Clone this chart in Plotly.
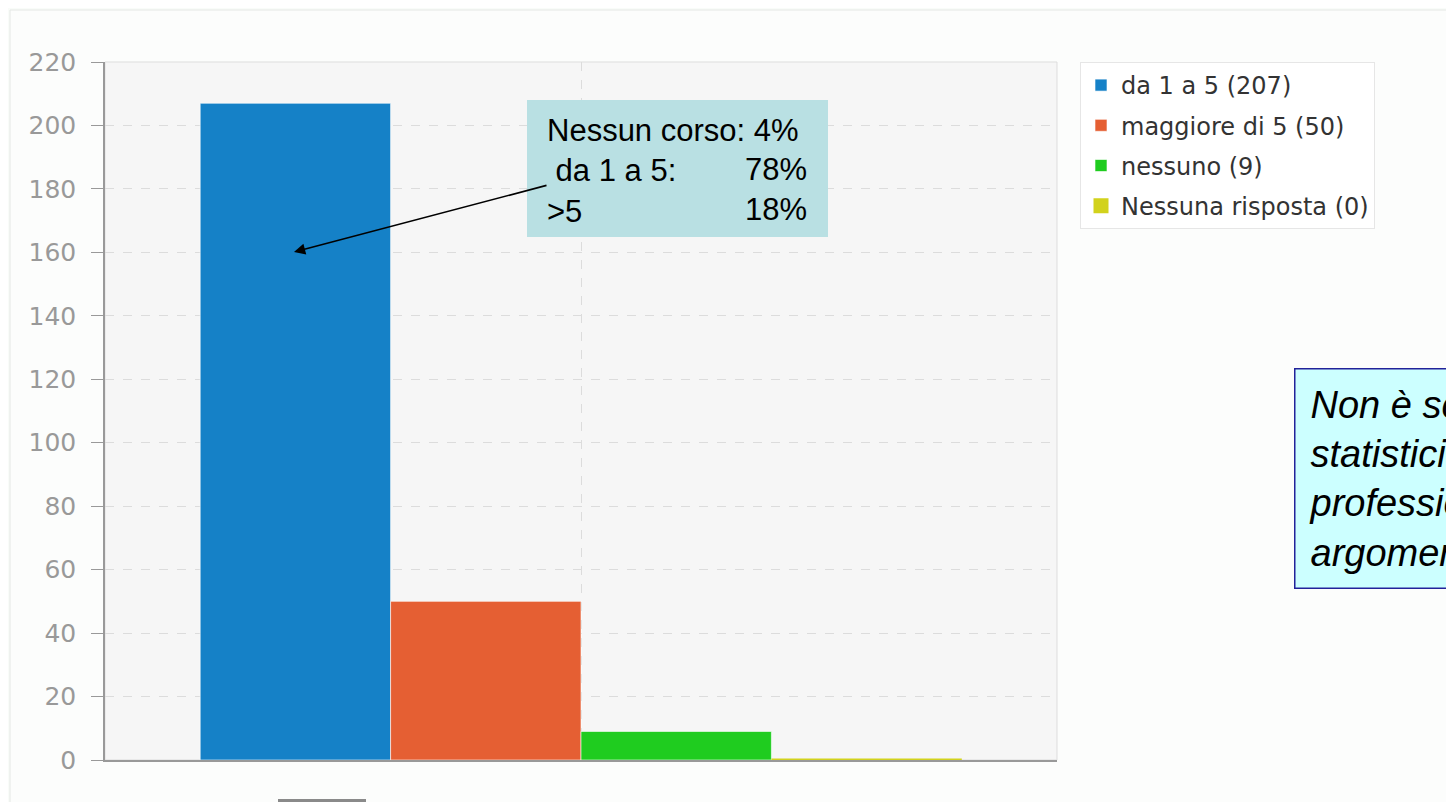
import plotly.graph_objects as go

# data
category = ["corsi"]
series_names = ["da 1 a 5 (207)", "maggiore di 5 (50)", "nessuno (9)", "Nessuna risposta (0)"]
series_values = [207, 50, 9, 0]
series_colors = ["#1581c7", "#e55f33", "#1fcc1f", "#d2d21c"]
y_ticks = list(range(0, 221, 20))
box_labels = ["Nessun corso: 4%", " da 1 a 5:", ">5"]
box_percents = ["78%", "18%"]
note_text = "Non è scontato che i<br>statistici seguano corsi<br>professionali su questo<br>argomento"

# the page body adds an 8px margin, so the figure starts at (8, 8)
OFF = 8
W, H = 1454 - OFF, 802 - OFF
# plot area in page pixels
L, R, T, B = 105, 1057, 62, 760


def px(x):
    return (x - L) / (R - L)


def py(y):
    return (B - y) / (B - T)


fig = go.Figure()
for i, (name, val, col) in enumerate(zip(series_names, series_values, series_colors)):
    fig.add_trace(go.Bar(
        x=category,
        y=[val],
        name=name,
        legendgroup=str(i),
        marker=dict(color=col,
                    line=dict(color=col if val == 0 else "rgba(255,255,255,0.6)",
                              width=3 if val == 0 else 1)),
    ))

shapes = [
    # outer chart panel
    dict(type="rect", xref="paper", yref="paper", layer="below",
         x0=px(10), x1=px(1470), y0=py(815), y1=py(10),
         line=dict(color="#e4e8e4", width=1), fillcolor="#fcfdfc"),
    # plot area
    dict(type="rect", xref="paper", yref="paper", layer="below",
         x0=0, x1=1, y0=0, y1=1,
         line=dict(color="#dddddd", width=1), fillcolor="#f6f6f6"),
    # text box behind the percentages
    dict(type="rect", xref="paper", yref="paper",
         x0=px(527), x1=px(828), y0=py(237), y1=py(100),
         line=dict(width=0), fillcolor="#b9e0e3"),
    # small grey bar at the bottom
    dict(type="rect", xref="paper", yref="paper",
         x0=px(278), x1=px(366), y0=py(805), y1=py(799),
         line=dict(width=0), fillcolor="#8a8a8a"),
]

box_font = dict(family="Liberation Sans, Arial", size=31, color="black")
annotations = [
    dict(xref="paper", yref="paper", x=px(294), y=py(252),
         ax=254, ay=-67, text="", showarrow=True,
         arrowhead=2, arrowsize=1.4, arrowwidth=1.6, arrowcolor="black"),
    dict(xref="paper", yref="paper", x=px(545), y=py(111),
         xanchor="left", yanchor="top", align="left", showarrow=False,
         text="<br>".join(box_labels), font=box_font),
    dict(xref="paper", yref="paper", x=px(809), y=py(150),
         xanchor="right", yanchor="top", align="right", showarrow=False,
         text="<br>".join(box_percents), font=box_font),
    dict(xref="paper", yref="paper", x=px(1294), y=py(368),
         xanchor="left", yanchor="top", align="left", showarrow=False,
         text="<i>" + note_text + "</i>",
         bgcolor="#ccffff", bordercolor="#22229a", borderwidth=1.5, borderpad=14,
         xshift=0,
         font=dict(family="Liberation Sans, Arial", size=38, color="black")),
]

fig.update_layout(
    width=W, height=H,
    margin=dict(l=L - OFF, r=W - (R - OFF), t=T - OFF, b=H - (B - OFF)),
    paper_bgcolor="#f9fcf9",
    plot_bgcolor="rgba(0,0,0,0)",
    barmode="group",
    bargap=0.2,
    bargroupgap=0,
    showlegend=True,
    legend=dict(x=px(1080), y=1, xanchor="left", yanchor="top",
                bgcolor="white", bordercolor="#e6e6e6", borderwidth=1,
                font=dict(family="DejaVu Sans", size=24, color="#333333"),
                tracegroupgap=6, itemwidth=30),
    shapes=shapes,
    annotations=annotations,
    xaxis=dict(showticklabels=False, showgrid=True, gridcolor="#dcdcdc",
               griddash="dash", showline=True, linecolor="#999999", linewidth=2,
               ticks="", fixedrange=True, layer="below traces"),
    yaxis=dict(range=[0, 220], tickvals=y_ticks, showgrid=True,
               gridcolor="#dcdcdc", griddash="dash", showline=True,
               linecolor="#999999", linewidth=1.5, ticks="outside", ticklen=12,
               tickcolor="#999999", zeroline=False, ticklabelstandoff=10,
               tickfont=dict(family="DejaVu Sans", size=25, color="#999999")),
)

fig.write_html("out.html")
